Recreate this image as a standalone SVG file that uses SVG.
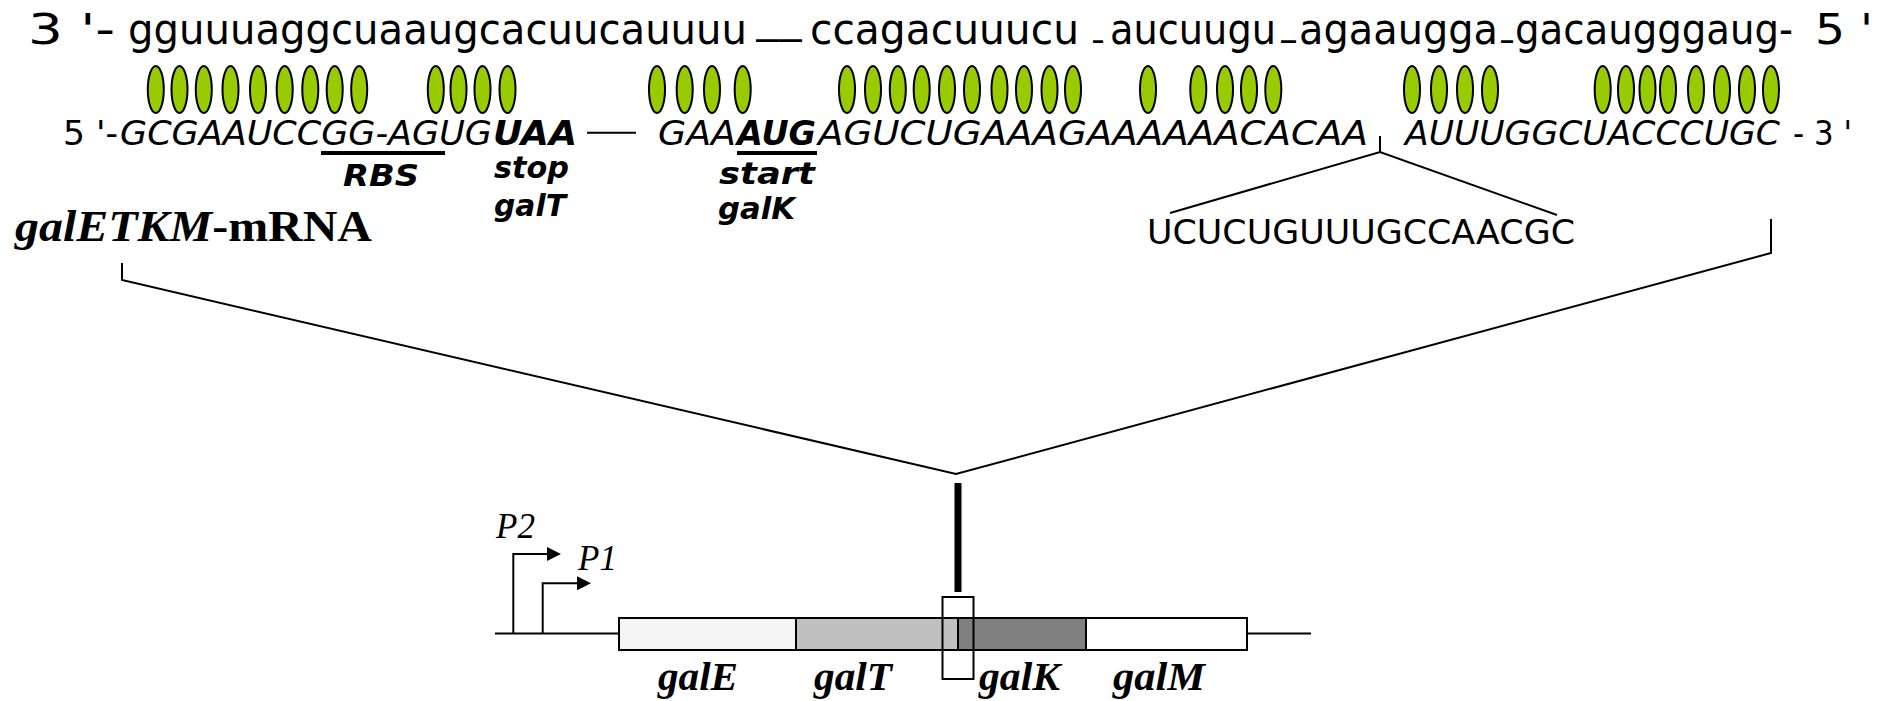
<svg xmlns="http://www.w3.org/2000/svg" width="1879" height="701" viewBox="0 0 1879 701">
<style>
.top{font-family:"DejaVu Sans",sans-serif;font-size:42px;fill:#000}
.us{font-family:"DejaVu Sans",sans-serif;font-size:30px;font-weight:bold;fill:#000}
.mid{font-family:"DejaVu Sans",sans-serif;font-size:34px;fill:#000}
.it{font-style:italic}
.bi{font-style:italic;font-weight:bold}
.lab{font-family:"DejaVu Sans",sans-serif;font-size:31px;font-style:italic;font-weight:bold;fill:#000}
.tnr{font-family:"Liberation Serif",serif;fill:#000}
.bp{fill:#99cc00;stroke:#000;stroke-width:2}
.ln{stroke:#000;stroke-width:2;fill:none}
.box{stroke:#000;stroke-width:2}
</style>
<defs>
<marker id="arr" markerWidth="14" markerHeight="14" refX="0" refY="7" orient="auto" markerUnits="userSpaceOnUse"><path d="M0,0 L0,14 L14,7 Z" fill="#000"/></marker>
</defs>

<g id="strand-top">
<text class="top" x="28" y="43.5" textLength="87" lengthAdjust="spacingAndGlyphs">3 '-</text>
<text class="top" x="128" y="43.5" textLength="619" lengthAdjust="spacingAndGlyphs">gguuuaggcuaaugcacuucauuuu</text>
<text class="us" x="756" y="35" textLength="46" lengthAdjust="spacingAndGlyphs">__</text>
<text class="top" x="810" y="43.5" textLength="269" lengthAdjust="spacingAndGlyphs">ccagacuuucu</text>
<text class="us" x="1093" y="36" textLength="10" lengthAdjust="spacingAndGlyphs">_</text>
<text class="top" x="1110" y="43.5" textLength="166" lengthAdjust="spacingAndGlyphs">aucuugu</text>
<text class="us" x="1281" y="36" textLength="15" lengthAdjust="spacingAndGlyphs">_</text>
<text class="top" x="1299" y="43.5" textLength="199" lengthAdjust="spacingAndGlyphs">agaaugga</text>
<text class="us" x="1501" y="36" textLength="12" lengthAdjust="spacingAndGlyphs">_</text>
<text class="top" x="1515" y="43.5" textLength="278" lengthAdjust="spacingAndGlyphs">gacaugggaug-</text>
<text class="top" x="1815" y="43.5" textLength="58" lengthAdjust="spacingAndGlyphs">5 '</text>
</g>

<g id="base-pairs">
<ellipse class="bp" cx="155.8" cy="89.5" rx="8" ry="23.5"/>
<ellipse class="bp" cx="179.5" cy="89.5" rx="8" ry="23.5"/>
<ellipse class="bp" cx="203.8" cy="89.5" rx="8" ry="23.5"/>
<ellipse class="bp" cx="230.5" cy="89.5" rx="8" ry="23.5"/>
<ellipse class="bp" cx="258" cy="89.5" rx="8" ry="23.5"/>
<ellipse class="bp" cx="284.7" cy="89.5" rx="8" ry="23.5"/>
<ellipse class="bp" cx="310.3" cy="89.5" rx="8" ry="23.5"/>
<ellipse class="bp" cx="334.7" cy="89.5" rx="8" ry="23.5"/>
<ellipse class="bp" cx="359.2" cy="89.5" rx="8" ry="23.5"/>
<ellipse class="bp" cx="435.8" cy="89.5" rx="8" ry="23.5"/>
<ellipse class="bp" cx="458.5" cy="89.5" rx="8" ry="23.5"/>
<ellipse class="bp" cx="482.5" cy="89.5" rx="8" ry="23.5"/>
<ellipse class="bp" cx="507.5" cy="89.5" rx="8" ry="23.5"/>
<ellipse class="bp" cx="657" cy="89.5" rx="8" ry="23.5"/>
<ellipse class="bp" cx="684.7" cy="89.5" rx="8" ry="23.5"/>
<ellipse class="bp" cx="712" cy="89.5" rx="8" ry="23.5"/>
<ellipse class="bp" cx="742.7" cy="89.5" rx="8" ry="23.5"/>
<ellipse class="bp" cx="847" cy="89.5" rx="8" ry="23.5"/>
<ellipse class="bp" cx="873" cy="89.5" rx="8" ry="23.5"/>
<ellipse class="bp" cx="897.8" cy="89.5" rx="8" ry="23.5"/>
<ellipse class="bp" cx="921.7" cy="89.5" rx="8" ry="23.5"/>
<ellipse class="bp" cx="947" cy="89.5" rx="8" ry="23.5"/>
<ellipse class="bp" cx="972" cy="89.5" rx="8" ry="23.5"/>
<ellipse class="bp" cx="999.5" cy="89.5" rx="8" ry="23.5"/>
<ellipse class="bp" cx="1024" cy="89.5" rx="8" ry="23.5"/>
<ellipse class="bp" cx="1049.5" cy="89.5" rx="8" ry="23.5"/>
<ellipse class="bp" cx="1073" cy="89.5" rx="8" ry="23.5"/>
<ellipse class="bp" cx="1148" cy="89.5" rx="8" ry="23.5"/>
<ellipse class="bp" cx="1198.3" cy="89.5" rx="8" ry="23.5"/>
<ellipse class="bp" cx="1225" cy="89.5" rx="8" ry="23.5"/>
<ellipse class="bp" cx="1249" cy="89.5" rx="8" ry="23.5"/>
<ellipse class="bp" cx="1273.3" cy="89.5" rx="8" ry="23.5"/>
<ellipse class="bp" cx="1412" cy="89.5" rx="8" ry="23.5"/>
<ellipse class="bp" cx="1439" cy="89.5" rx="8" ry="23.5"/>
<ellipse class="bp" cx="1465" cy="89.5" rx="8" ry="23.5"/>
<ellipse class="bp" cx="1490" cy="89.5" rx="8" ry="23.5"/>
<ellipse class="bp" cx="1602.7" cy="89.5" rx="8" ry="23.5"/>
<ellipse class="bp" cx="1626" cy="89.5" rx="8" ry="23.5"/>
<ellipse class="bp" cx="1647.5" cy="89.5" rx="8" ry="23.5"/>
<ellipse class="bp" cx="1668" cy="89.5" rx="8" ry="23.5"/>
<ellipse class="bp" cx="1696" cy="89.5" rx="8" ry="23.5"/>
<ellipse class="bp" cx="1722" cy="89.5" rx="8" ry="23.5"/>
<ellipse class="bp" cx="1747" cy="89.5" rx="8" ry="23.5"/>
<ellipse class="bp" cx="1771" cy="89.5" rx="8" ry="23.5"/>
</g>

<g id="strand-mrna">
<text class="mid" x="63" y="145" textLength="55" lengthAdjust="spacingAndGlyphs">5 '-</text>
<text class="mid it" x="120" y="145" textLength="372" lengthAdjust="spacingAndGlyphs">GCGAAUCCGG-AGUG</text>
<text class="mid bi" x="493" y="145" textLength="84" lengthAdjust="spacingAndGlyphs">UAA</text>
<line class="ln" x1="587" y1="132.7" x2="636" y2="132.7"/>
<text class="mid it" x="658" y="145" textLength="78" lengthAdjust="spacingAndGlyphs">GAA</text>
<text class="mid bi" x="737" y="145" textLength="79" lengthAdjust="spacingAndGlyphs">AUG</text>
<text class="mid it" x="818" y="145" textLength="550" lengthAdjust="spacingAndGlyphs">AGUCUGAAAGAAAAAACACAA</text>
<text class="mid it" x="1405" y="145" textLength="375" lengthAdjust="spacingAndGlyphs">AUUUGGCUACCCUGC</text>
<text class="mid" x="1793" y="145" textLength="59" lengthAdjust="spacingAndGlyphs">- 3 '</text>
<rect x="321" y="151" width="124" height="4" fill="#000"/>
<rect x="737" y="151" width="80" height="4" fill="#000"/>
</g>

<g id="labels">
<text class="lab" x="343" y="186" textLength="76" lengthAdjust="spacingAndGlyphs">RBS</text>
<text class="lab" x="494" y="178" textLength="75" lengthAdjust="spacingAndGlyphs">stop</text>
<text class="lab" x="494" y="216" textLength="72" lengthAdjust="spacingAndGlyphs">galT</text>
<text class="lab" x="719" y="184" textLength="96" lengthAdjust="spacingAndGlyphs">start</text>
<text class="lab" x="718" y="219" textLength="77" lengthAdjust="spacingAndGlyphs">galK</text>
<text class="tnr" x="15" y="241" font-size="44" font-weight="bold" textLength="357" lengthAdjust="spacingAndGlyphs"><tspan font-style="italic">galETKM</tspan>-mRNA</text>
</g>

<g id="insert">
<text class="mid" x="1147" y="244" textLength="428" lengthAdjust="spacingAndGlyphs">UCUCUGUUUGCCAACGC</text>
</g>

<g id="connectors">
<polyline class="ln" points="1170,213 1380,152 1557,215"/>
<line class="ln" x1="1380" y1="136" x2="1380" y2="152"/>
<polyline class="ln" points="122,263 122,280 956,474 1771,253 1771,219"/>
<line x1="958" y1="483" x2="958" y2="592" stroke="#000" stroke-width="7"/>
<polyline class="ln" points="513.3,634 513.3,554 547,554" marker-end="url(#arr)" stroke-width="2.5"/>
<polyline class="ln" points="542.7,634 542.7,583.3 577,583.3" marker-end="url(#arr)" stroke-width="2.5"/>
</g>

<g id="promoters">
<text class="tnr" x="496" y="538" font-size="35" font-style="italic">P2</text>
<text class="tnr" x="578" y="570" font-size="35" font-style="italic">P1</text>
</g>

<g id="operon">
<line class="ln" x1="495" y1="633.5" x2="619" y2="633.5"/>
<line class="ln" x1="1247" y1="633.5" x2="1311" y2="633.5"/>
<rect class="box" x="619" y="618" width="177" height="32" fill="#f5f5f5"/>
<rect class="box" x="796" y="618" width="162" height="32" fill="#c0c0c0"/>
<rect class="box" x="958" y="618" width="128" height="32" fill="#808080"/>
<rect class="box" x="1086" y="618" width="161" height="32" fill="#ffffff"/>
<rect class="box" x="942.5" y="597" width="31" height="82" fill="none"/>
<text class="tnr" x="658" y="690" font-size="40" font-weight="bold" font-style="italic" textLength="80" lengthAdjust="spacingAndGlyphs">galE</text>
<text class="tnr" x="814" y="690" font-size="40" font-weight="bold" font-style="italic" textLength="78" lengthAdjust="spacingAndGlyphs">galT</text>
<text class="tnr" x="979" y="690" font-size="40" font-weight="bold" font-style="italic" textLength="81" lengthAdjust="spacingAndGlyphs">galK</text>
<text class="tnr" x="1113" y="690" font-size="40" font-weight="bold" font-style="italic" textLength="92" lengthAdjust="spacingAndGlyphs">galM</text>
</g>
</svg>
